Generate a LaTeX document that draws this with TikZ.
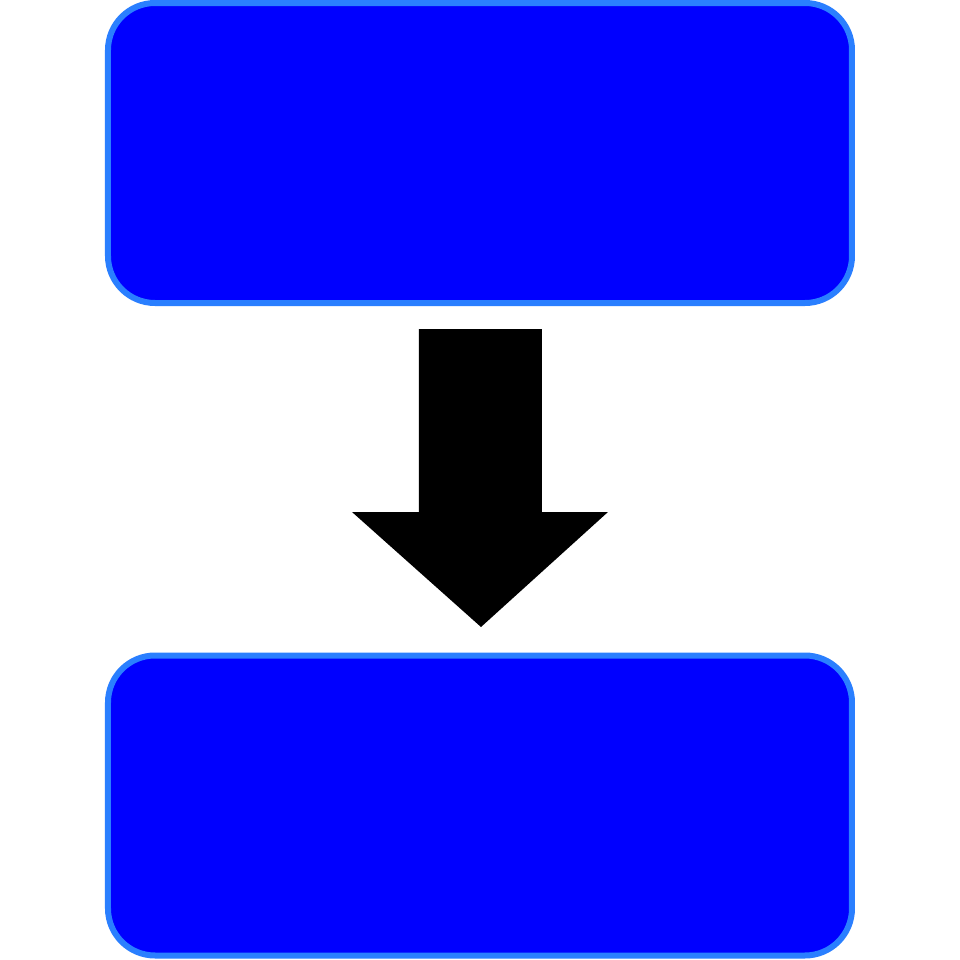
\documentclass[tikz,border=0pt]{standalone}
\usepackage{tikz}
\usepackage{xcolor}
\usetikzlibrary{calc}
\definecolor{boxblue}{RGB}{0,0,255}
\definecolor{edgeblue}{RGB}{42,127,255}

\begin{document}
\begin{tikzpicture}[auto,
	box node/.style = {rectangle, draw=edgeblue, fill=boxblue, line width=0.06cm,
		rounded corners=0.47cm, minimum width=7.44cm, minimum height=3cm, inner sep=0pt},
	arrow shape/.style = {fill=black, draw=none}]
	\useasboundingbox[fill=white] (0,0) rectangle (9.6,9.6);
	\node[box node] at (4.8,8.07) (1) {};
	\node[box node] at (4.8,1.545) (2) {};
	\coordinate (a) at (4.19,6.31);
	\coordinate (b) at (5.42,6.31);
	\coordinate (t) at (4.81,3.33);
	\fill[arrow shape] (a)--(b)--(5.42,4.48)--(6.08,4.48)--(t)--(3.52,4.48)--(4.19,4.48)--cycle;
	\end{tikzpicture}
\end{document}
